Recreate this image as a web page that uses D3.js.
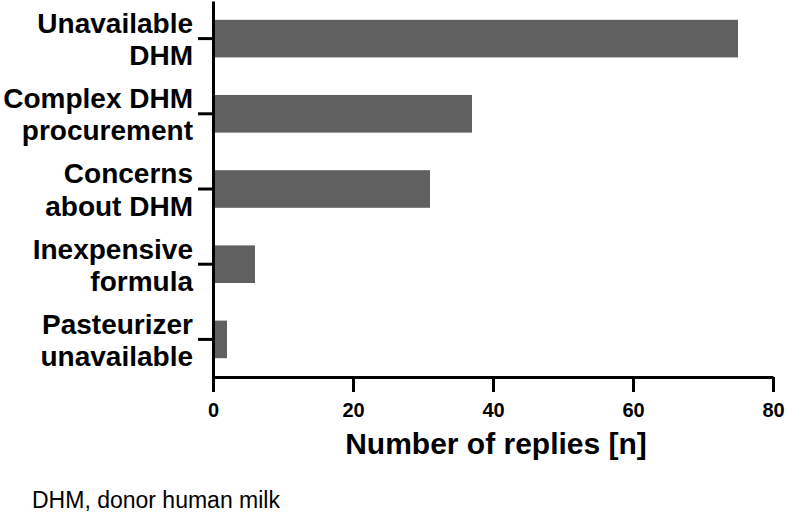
<!DOCTYPE html>
<html>
<head>
<meta charset="utf-8">
<script src="https://cdn.jsdelivr.net/npm/d3@7"></script>
<style>
  body { margin: 0; background: #fff; }
  svg { display: block; font-family: "Liberation Sans", Arial, sans-serif; }
</style>
</head>
<body>
<svg></svg>
<script>
var screen = {width: 787, height: 512};
var margins = {top: 1, right: 14, bottom: 135, left: 213};

// categories (two lines each) and counts
var categories = ["Unavailable DHM", "Complex DHM procurement", "Concerns about DHM", "Inexpensive formula", "Pasteurizer unavailable"];
var labelLines = [["Unavailable", "DHM"], ["Complex DHM", "procurement"], ["Concerns", "about DHM"], ["Inexpensive", "formula"], ["Pasteurizer", "unavailable"]];
var replies = [75, 37, 31, 6, 2];
var xTicks = [0, 20, 40, 60, 80];

var setup = function()
    {
        var svg = d3.select("svg")
            .attr("width", screen.width)
            .attr("height", screen.height);

        var width = screen.width - margins.left - margins.right;
        var height = screen.height - margins.top - margins.bottom;

        var xscale = d3.scaleLinear()
                        .domain([0, 80])
                        .range([0, width]);

        var yscale = d3.scaleBand()
                        .domain(categories)
                        .range([0, height])
                        .paddingInner(0.5)
                        .paddingOuter(0.25);

        var graph = svg.append("g")
            .attr("id", "graph")
            .attr("transform", "translate(" + margins.left + "," + margins.top + ")");

        graph.selectAll("rect")
            .data(replies)
            .enter()
            .append("rect")
            .attr("x", xscale(0))
            .attr("y", function(d, i) { return yscale(categories[i]); })
            .attr("width", function(d) { return xscale(d) - xscale(0); })
            .attr("height", yscale.bandwidth())
            .attr("fill", "#606060");

        var xAxis = d3.axisBottom(xscale)
                        .tickValues(xTicks)
                        .tickSize(15)
                        .tickSizeOuter(0)
                        .tickPadding(11);
        var yAxis = d3.axisLeft(yscale)
                        .tickSize(15)
                        .tickSizeOuter(0)
                        .tickFormat("");

        var xg = graph.append("g")
            .attr("id", "xAxis")
            .attr("transform", "translate(0," + height + ")")
            .call(xAxis);
        xg.selectAll("text")
            .attr("fill", "#000")
            .style("font-size", "20px")
            .style("font-weight", "bold");

        var yg = graph.append("g")
            .attr("id", "yAxis")
            .call(yAxis);

        graph.selectAll(".domain, .tick line")
            .attr("stroke", "#000")
            .attr("stroke-width", 3);

        // two-line category labels
        var labels = graph.append("g")
            .attr("id", "labels")
            .selectAll("text")
            .data(categories)
            .enter()
            .append("text")
            .attr("text-anchor", "end")
            .attr("x", -20)
            .attr("y", function(d) { return yscale(d) + yscale.bandwidth() / 2; })
            .style("font-size", "28px")
            .style("font-weight", "bold")
            .attr("fill", "#000");
        labels.selectAll("tspan")
            .data(function(d, i) { return labelLines[i]; })
            .enter()
            .append("tspan")
            .attr("x", -20)
            .attr("dy", function(d, j) { return j == 0 ? "-0.2em" : "1.15em"; })
            .text(function(d) { return d; });

        graph.append("text")
            .attr("x", width / 2 + 3)
            .attr("y", height + 77)
            .attr("text-anchor", "middle")
            .style("font-size", "30px")
            .style("font-weight", "bold")
            .text("Number of replies [n]");

        svg.append("text")
            .attr("x", 32)
            .attr("y", 508)
            .style("font-size", "23px")
            .text("DHM, donor human milk");
    };

setup();
</script>
</body>
</html>
